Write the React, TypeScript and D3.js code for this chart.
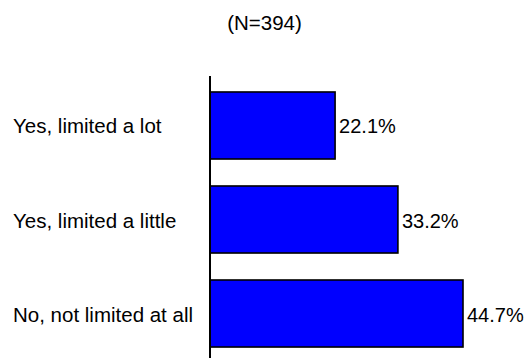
import React from "react";
import * as d3 from "d3";

const title = "(N=394)";
const categories = ["Yes, limited a lot", "Yes, limited a little", "No, not limited at all"];
const values = [22.1, 33.2, 44.7];

const W = 529;
const H = 358;
const axisX = 210;
const FONT = "Arial, 'Liberation Sans', sans-serif";

export default function App() {
  const x = d3.scaleLinear().domain([0, 50]).range([axisX, 493]);
  const y = d3
    .scaleBand<string>()
    .domain(categories)
    .range([76, 363])
    .paddingInner(0.287)
    .paddingOuter(0.17);

  return (
    <svg
      width={W}
      height={H}
      style={{ position: "absolute", left: 0, top: 0, background: "#fff" }}
      fontFamily={FONT}
    >
      <text x={264.5} y={30} fontSize={20.5} textAnchor="middle" fill="#000">
        {title}
      </text>
      {categories.map((c, i) => {
        const y0 = y(c)!;
        const bw = y.bandwidth();
        const cy = y0 + bw / 2;
        return (
          <g key={c}>
            <rect
              x={x(0)}
              y={y0}
              width={x(values[i]) - x(0)}
              height={bw}
              fill="#0000ff"
              stroke="#000"
              strokeWidth={1.6}
            />
            <text x={13} y={cy + 8} fontSize={20.5} fill="#000">
              {c}
            </text>
            <text x={x(values[i]) + 4} y={cy + 8} fontSize={20} fill="#000">
              {values[i].toFixed(1)}%
            </text>
          </g>
        );
      })}
      <line x1={axisX} x2={axisX} y1={76} y2={H} stroke="#000" strokeWidth={2} />
    </svg>
  );
}
